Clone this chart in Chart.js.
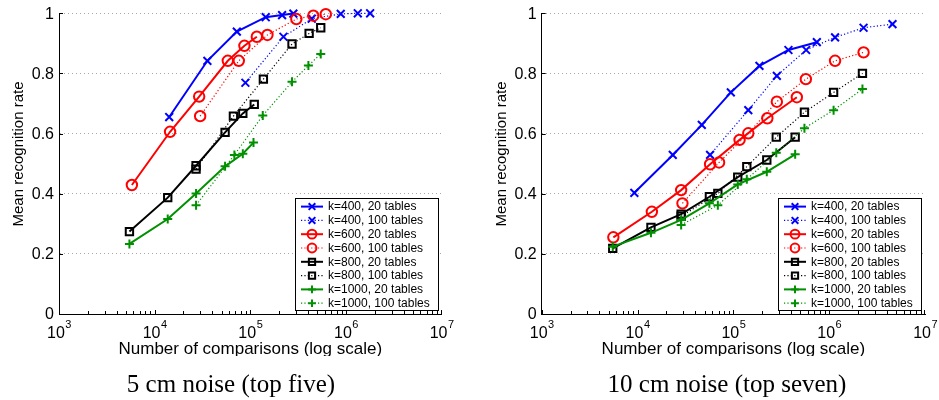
<!DOCTYPE html>
<html lang="en">
<head>
<meta charset="UTF-8">
<title>Mean recognition rate vs number of comparisons</title>
<script src="https://cdn.jsdelivr.net/npm/chart.js"></script>
<style>
  html, body { margin: 0; padding: 0; background: #fff; }
  #wrap { position: relative; width: 939px; height: 400px; }
  canvas { position: absolute; top: 0; }
</style>
</head>
<body>
<div id="wrap">
  <canvas id="left" width="470" height="400" style="left:0px"></canvas>
  <canvas id="right" width="469" height="400" style="left:470px"></canvas>
</div>
<script>
// labels
const seriesLabels = ['k=400, 20 tables', 'k=400, 100 tables', 'k=600, 20 tables', 'k=600, 100 tables',
                      'k=800, 20 tables', 'k=800, 100 tables', 'k=1000, 20 tables', 'k=1000, 100 tables'];
const xTicks = [1e3, 1e4, 1e5, 1e6, 1e7];
const yTicks = [0, 0.2, 0.4, 0.6, 0.8, 1];
const xTitle = 'Number of comparisons (log scale)';
const yTitle = 'Mean recognition rate';
const captions = ['5 cm noise (top five)', '10 cm noise (top seven)'];

// 5 cm noise (top five)
const cmp5_k400_20 = [14200, 35600, 72300, 145000, 215000, 282000];
const rate5_k400_20 = [0.655, 0.842, 0.939, 0.987, 0.994, 0.999];
const cmp5_k400_100 = [88900, 222000, 439000, 882000, 1330000, 1790000];
const rate5_k400_100 = [0.769, 0.922, 0.982, 0.998, 1.0, 1.0];
const cmp5_k600_20 = [5780, 14500, 29200, 58200, 86800, 117000];
const rate5_k600_20 = [0.429, 0.606, 0.723, 0.842, 0.892, 0.922];
const cmp5_k600_100 = [29900, 75800, 151000, 303000, 456000, 615000];
const rate5_k600_100 = [0.658, 0.842, 0.928, 0.981, 0.992, 0.997];
const cmp5_k800_20 = [5450, 13700, 27100, 54500, 83500, 110000];
const rate5_k800_20 = [0.274, 0.387, 0.493, 0.604, 0.667, 0.697];
const cmp5_k800_100 = [27100, 66600, 137000, 273000, 412000, 545000];
const rate5_k800_100 = [0.482, 0.658, 0.781, 0.898, 0.933, 0.952];
const cmp5_k1000_20 = [5450, 13700, 27100, 54500, 83500, 108000];
const rate5_k1000_20 = [0.233, 0.316, 0.401, 0.491, 0.533, 0.570];
const cmp5_k1000_100 = [27100, 68200, 135000, 273000, 405000, 545000];
const rate5_k1000_100 = [0.362, 0.529, 0.660, 0.772, 0.826, 0.865];

// 10 cm noise (top seven)
const cmp10_k400_20 = [9260, 23300, 46800, 94000, 187000, 375000, 742000];
const rate10_k400_20 = [0.403, 0.529, 0.629, 0.737, 0.825, 0.878, 0.904];
const cmp10_k400_100 = [57100, 143000, 284000, 574000, 1150000, 2280000, 4570000];
const rate10_k400_100 = [0.529, 0.678, 0.792, 0.878, 0.920, 0.952, 0.964];
const cmp10_k600_20 = [5590, 14100, 28500, 57100, 116000, 226000, 459000];
const rate10_k600_20 = [0.255, 0.340, 0.412, 0.498, 0.579, 0.651, 0.721];
const cmp10_k600_100 = [29400, 70900, 143000, 284000, 570000, 1150000, 2280000];
const rate10_k600_100 = [0.368, 0.504, 0.601, 0.706, 0.781, 0.842, 0.870];
const cmp10_k800_20 = [5510, 13800, 28500, 56200, 111000, 223000, 441000];
const rate10_k800_20 = [0.218, 0.288, 0.332, 0.390, 0.455, 0.512, 0.588];
const cmp10_k800_100 = [28500, 68800, 138000, 280000, 551000, 1110000, 2220000];
const rate10_k800_100 = [0.325, 0.401, 0.490, 0.588, 0.671, 0.737, 0.800];
const cmp10_k1000_20 = [5510, 13800, 28500, 56200, 111000, 223000, 441000];
const rate10_k1000_20 = [0.224, 0.270, 0.313, 0.368, 0.431, 0.473, 0.531];
const cmp10_k1000_100 = [28500, 68800, 138000, 280000, 551000, 1110000, 2220000];
const rate10_k1000_100 = [0.296, 0.362, 0.448, 0.536, 0.618, 0.678, 0.748];

// line / marker look for the 8 series (same order as seriesLabels)
const looks = [
  { color: '#0000ff', marker: 'crossRot', r: 5.5, solid: true },
  { color: '#0000ff', marker: 'crossRot', r: 5.5, solid: false },
  { color: '#ff0000', marker: 'circle', r: 5.2, solid: true },
  { color: '#ff0000', marker: 'circle', r: 5.2, solid: false },
  { color: '#000000', marker: 'rect', r: 5.2, solid: true },
  { color: '#000000', marker: 'rect', r: 5.2, solid: false },
  { color: '#009000', marker: 'cross', r: 4.5, solid: true },
  { color: '#009000', marker: 'cross', r: 4.5, solid: false }
];

const SANS = '"Liberation Sans", Arial, Helvetica, sans-serif';

function makeDatasets(xs, ys) {
  return xs.map((xv, i) => {
    const lk = looks[i];
    return {
      label: seriesLabels[i],
      data: xv.map((x, j) => ({ x: x, y: ys[i][j] })),
      borderColor: lk.color,
      borderWidth: lk.solid ? 2 : 1.2,
      borderDash: lk.solid ? [] : [1.2, 2.2],
      pointStyle: lk.marker,
      pointRadius: lk.r,
      pointBorderWidth: 2,
      pointBorderColor: lk.color,
      pointBackgroundColor: 'rgba(0,0,0,0)',
      tension: 0,
      clip: false,
      order: 8 - i
    };
  });
}

// axes labels, inward ticks, legend box and caption, MATLAB style
const figurePlugin = {
  id: 'figure',
  afterDraw(chart, args, opts) {
    const ctx = chart.ctx;
    const a = chart.chartArea;
    const sx = chart.scales.x, sy = chart.scales.y;
    ctx.save();
    ctx.strokeStyle = '#000';
    ctx.fillStyle = '#000';
    ctx.lineWidth = 1;

    // inward ticks
    ctx.beginPath();
    for (let d = 3; d < 7; d++) {
      for (let m = 1; m < 10; m++) {
        const px = Math.round(sx.getPixelForValue(m * Math.pow(10, d))) + 0.5;
        const len = m === 1 ? 4 : 3;
        ctx.moveTo(px, a.bottom);
        ctx.lineTo(px, a.bottom - len);
      }
    }
    const pEnd = Math.round(sx.getPixelForValue(1e7)) - 0.5;
    ctx.moveTo(pEnd, a.bottom);
    ctx.lineTo(pEnd, a.bottom - 4);
    yTicks.forEach(v => {
      const py = Math.round(sy.getPixelForValue(v)) + 0.5;
      ctx.moveTo(a.left, py);
      ctx.lineTo(a.left + 4, py);
    });
    ctx.stroke();

    // y tick labels
    ctx.font = '16px ' + SANS;
    ctx.textAlign = 'right';
    ctx.textBaseline = 'middle';
    yTicks.forEach(v => {
      ctx.fillText(String(v), a.left - 5, sy.getPixelForValue(v) + 1);
    });

    // x tick labels 10^n
    ctx.textAlign = 'left';
    ctx.textBaseline = 'alphabetic';
    xTicks.forEach(v => {
      const px = sx.getPixelForValue(v);
      const ex = String(Math.round(Math.log10(v)));
      ctx.font = '16px ' + SANS;
      const wb = ctx.measureText('10').width;
      ctx.font = '11px ' + SANS;
      const we = ctx.measureText(ex).width;
      const x0 = px - (wb + we) / 2;
      ctx.font = '16px ' + SANS;
      ctx.fillText('10', x0, a.bottom + 24);
      ctx.font = '11px ' + SANS;
      ctx.fillText(ex, x0 + wb + 0.5, a.bottom + 14);
    });

    // x title (clipped at the bottom as in the original figure)
    ctx.save();
    ctx.beginPath();
    ctx.rect(0, 0, chart.width, a.bottom + 42);
    ctx.clip();
    ctx.font = '17px ' + SANS;
    ctx.textAlign = 'center';
    ctx.fillText(xTitle, (a.left + a.right) / 2, a.bottom + 40);
    ctx.restore();

    // y title
    ctx.save();
    ctx.translate(a.left - 40, 154);
    ctx.rotate(-Math.PI / 2);
    ctx.font = '15px ' + SANS;
    ctx.textAlign = 'center';
    ctx.textBaseline = 'middle';
    ctx.fillText(yTitle, 0, 0);
    ctx.restore();

    // legend box
    const lw = 143, lh = 112;
    const bx = Math.round(a.right - 4 - lw), by = Math.round(a.bottom - 4 - lh);
    ctx.fillStyle = '#fff';
    ctx.fillRect(bx, by, lw, lh);
    ctx.strokeStyle = '#000';
    ctx.lineWidth = 1;
    ctx.strokeRect(bx + 0.5, by + 0.5, lw, lh);
    const drawPoint = Chart.helpers && Chart.helpers.drawPoint;
    chart.data.datasets.forEach((ds, i) => {
      const cy = by + 8.6 + i * 13.8;
      ctx.save();
      ctx.strokeStyle = ds.borderColor;
      ctx.lineWidth = ds.borderWidth;
      ctx.setLineDash(ds.borderDash);
      ctx.beginPath();
      ctx.moveTo(bx + 6, cy);
      ctx.lineTo(bx + 28, cy);
      ctx.stroke();
      ctx.setLineDash([]);
      ctx.lineWidth = 2;
      ctx.fillStyle = 'rgba(0,0,0,0)';
      if (drawPoint) {
        drawPoint(ctx, { pointStyle: ds.pointStyle, radius: ds.pointRadius * 0.85, borderWidth: 2, rotation: 0 }, bx + 17, cy);
      }
      ctx.restore();
      ctx.fillStyle = '#000';
      ctx.font = '12px ' + SANS;
      ctx.textAlign = 'left';
      ctx.textBaseline = 'middle';
      ctx.fillText(ds.label, bx + 33, cy + 0.5);
    });

    // caption under the panel
    ctx.fillStyle = '#000';
    ctx.font = '25px "Liberation Serif", "Times New Roman", serif';
    ctx.textAlign = 'center';
    ctx.textBaseline = 'alphabetic';
    ctx.fillText(opts.caption, opts.captionX, 392);
    ctx.restore();
  }
};

function makeChart(id, datasets, padLeft, padRight, caption, captionX) {
  return new Chart(document.getElementById(id), {
    type: 'line',
    data: { datasets: datasets },
    options: {
      responsive: false,
      animation: false,
      devicePixelRatio: 1,
      layout: { padding: { left: padLeft, right: padRight, top: 13.3, bottom: 86 }, autoPadding: false },
      plugins: {
        legend: { display: false },
        tooltip: { enabled: false },
        figure: { caption: caption, captionX: captionX }
      },
      scales: {
        x: {
          type: 'logarithmic', min: 1000, max: 1e7,
          grid: { display: false, drawTicks: false },
          border: { display: true, color: '#000', width: 1 },
          ticks: { display: false }
        },
        y: {
          type: 'linear', min: 0, max: 1,
          ticks: { display: false, stepSize: 0.2 },
          grid: {
            drawTicks: false,
            lineWidth: 1,
            color: c => (c.tick && c.tick.value === 0) ? 'rgba(0,0,0,0)' : '#a8a8a8'
          },
          border: { display: true, color: '#000', width: 1, dash: [1, 3] }
        }
      }
    },
    plugins: [figurePlugin]
  });
}

makeChart('left', makeDatasets(
  [cmp5_k400_20, cmp5_k400_100, cmp5_k600_20, cmp5_k600_100, cmp5_k800_20, cmp5_k800_100, cmp5_k1000_20, cmp5_k1000_100],
  [rate5_k400_20, rate5_k400_100, rate5_k600_20, rate5_k600_100, rate5_k800_20, rate5_k800_100, rate5_k1000_20, rate5_k1000_100]
), 59, 28.4, captions[0], 231);

makeChart('right', makeDatasets(
  [cmp10_k400_20, cmp10_k400_100, cmp10_k600_20, cmp10_k600_100, cmp10_k800_20, cmp10_k800_100, cmp10_k1000_20, cmp10_k1000_100],
  [rate10_k400_20, rate10_k400_100, rate10_k600_20, rate10_k600_100, rate10_k800_20, rate10_k800_100, rate10_k1000_20, rate10_k1000_100]
), 71.7, 13.9, captions[1], 257);
</script>
</body>
</html>
